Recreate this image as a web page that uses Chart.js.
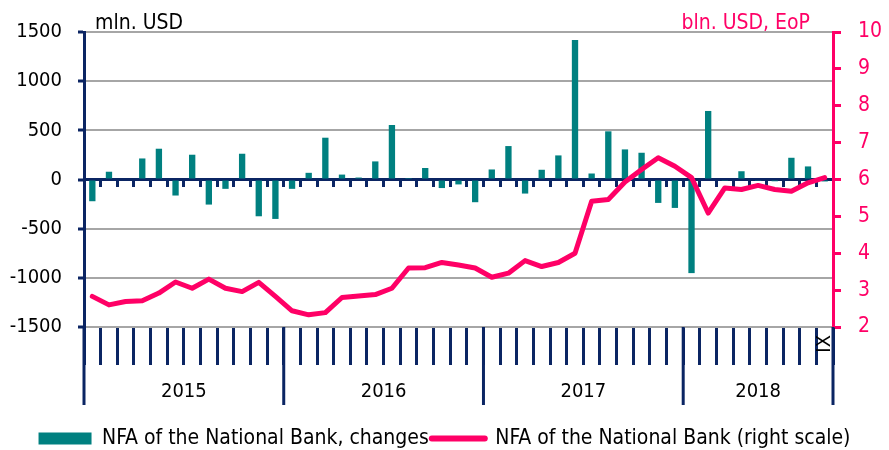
<!DOCTYPE html>
<html>
<head>
<meta charset="utf-8">
<script src="https://cdn.jsdelivr.net/npm/chart.js@4.4.1/dist/chart.umd.min.js"></script>
<style>
  body { margin: 0; background: #fff; }
</style>
</head>
<body>
<canvas id="nfaChart" width="889" height="450"></canvas>
<script>
// datos: enero 2015 - septiembre 2018
const years = ['2015', '2016', '2017', '2018'];
const monthsPerYear = [12, 12, 12, 9];
const romanMonths = ['I', 'II', 'III', 'IV', 'V', 'VI', 'VII', 'VIII', 'IX', 'X', 'XI', 'XII'];

// cambios mensuales, mln. USD (eje izquierdo)
const nfaChanges = [
  -221, 79, 10, 214, 313, -163, 252, -255, -95, 262, -374, -401,
  -95, 68, 425, 50, 20, 184, 554, 5, 117, -87, -50, -231,
  102, 340, -143, 99, 245, 1418, 61, 490, 306, 272, -238, -289,
  -952, 697, -15, 84, -15, -18, 221, 133, -20
];

// saldo a fin de periodo, bln. USD (eje derecho)
const nfaLevel = [
  2.83, 2.60, 2.69, 2.71, 2.92, 3.22, 3.05, 3.30, 3.05, 2.96, 3.21, 2.83,
  2.44, 2.33, 2.39, 2.80, 2.84, 2.88, 3.05, 3.60, 3.61, 3.75, 3.68, 3.60,
  3.35, 3.46, 3.80, 3.64, 3.75, 4.00, 5.41, 5.46, 5.93, 6.27, 6.59, 6.36,
  6.05, 5.09, 5.77, 5.73, 5.84, 5.73, 5.68, 5.91, 6.05
];

const leftTicks = [-1500, -1000, -500, 0, 500, 1000, 1500];
const rightTicks = [2, 3, 4, 5, 6, 7, 8, 9, 10];

// etiquetas de meses (una por barra)
const categories = [];
years.forEach((yr, k) => {
  for (let m = 0; m < monthsPerYear[k]; m++) categories.push(romanMonths[m]);
});

const navy = '#0b2563';
const teal = '#008080';
const pink = '#ff0066';
const gridGray = '#a6a6a6';
const family = "'DejaVu Sans Condensed', 'DejaVu Sans', sans-serif";

Chart.defaults.font.family = family;
Chart.defaults.color = '#000';

// lineas de separacion de años, nombres de años y unidades
const extrasPlugin = {
  id: 'extras',
  afterDraw(chart) {
    const { ctx, chartArea } = chart;
    const x = chart.scales.x;
    const bottom = chartArea.bottom;
    ctx.save();
    ctx.strokeStyle = navy;
    ctx.lineWidth = 3;
    ctx.fillStyle = '#000';
    ctx.font = '20px ' + family;
    ctx.textAlign = 'center';
    ctx.textBaseline = 'middle';
    let start = 0;
    const bounds = [x.getPixelForValue(-0.5)];
    years.forEach((yr, k) => {
      const l = x.getPixelForValue(start - 0.5);
      const r = x.getPixelForValue(start + monthsPerYear[k] - 0.5);
      ctx.fillText(yr, (l + r) / 2, bottom + 65);
      bounds.push(r);
      start += monthsPerYear[k];
    });
    bounds.forEach(px => {
      ctx.beginPath();
      ctx.moveTo(px, bottom);
      ctx.lineTo(px, bottom + 78);
      ctx.stroke();
    });

    ctx.font = '21px ' + family;
    ctx.textBaseline = 'alphabetic';
    ctx.textAlign = 'left';
    ctx.fillText('mln. USD', chartArea.left + 11, chartArea.top - 3);
    ctx.fillStyle = pink;
    ctx.textAlign = 'right';
    ctx.fillText('bln. USD, EoP', chartArea.right - 23, chartArea.top - 3);
    ctx.restore();
  }
};

const ctx = document.querySelector('#nfaChart').getContext('2d');
const nfaChart = new Chart(ctx, {
  type: 'bar',
  data: {
    labels: categories,
    datasets: [
      {
        label: 'NFA of the National Bank, changes',
        data: nfaChanges,
        backgroundColor: teal,
        borderWidth: 0,
        barPercentage: 0.38,
        categoryPercentage: 1,
        xAxisID: 'x',
        yAxisID: 'y',
        order: 1
      },
      {
        type: 'line',
        label: 'NFA of the National Bank (right scale)',
        data: nfaLevel,
        borderColor: pink,
        backgroundColor: pink,
        borderWidth: 5,
        borderCapStyle: 'round',
        borderJoinStyle: 'round',
        pointRadius: 0,
        tension: 0,
        xAxisID: 'x',
        yAxisID: 'y1',
        order: 0
      }
    ]
  },
  options: {
    responsive: false,
    devicePixelRatio: 1,
    animation: false,
    layout: { padding: { top: 32, left: 0, right: 0, bottom: -9 } },
    scales: {
      x: {
        type: 'category',
        position: 'bottom',
        offset: true,
        grid: {
          offset: true,
          drawOnChartArea: false,
          tickColor: navy,
          tickWidth: 3,
          tickLength: 38
        },
        border: { display: false },
        ticks: {
          autoSkip: false,
          minRotation: 90,
          maxRotation: 90,
          padding: -30,
          font: { size: 20 },
          callback: (val, i) => (i === categories.length - 1 ? categories[i] : '')
        },
        afterFit: s => { s.height = 98; }
      },
      x0: {
        type: 'category',
        position: { y: 0 },
        offset: true,
        grid: {
          offset: true,
          drawOnChartArea: false,
          tickColor: navy,
          tickWidth: 3,
          tickLength: 6
        },
        border: { color: navy, width: 3 },
        ticks: { display: false }
      },
      y: {
        position: 'left',
        min: -1500,
        max: 1500,
        afterBuildTicks: s => { s.ticks = leftTicks.map(v => ({ value: v })); },
        grid: {
          color: gridGray,
          lineWidth: 2,
          tickColor: navy,
          tickWidth: 3,
          tickLength: 6
        },
        border: { color: navy, width: 3 },
        ticks: { padding: 16, font: { size: 20 }, callback: v => String(v) },
        afterFit: s => { s.width = 84; }
      },
      y1: {
        position: 'right',
        min: 2,
        max: 10,
        afterBuildTicks: s => { s.ticks = rightTicks.map(v => ({ value: v })); },
        grid: {
          drawOnChartArea: false,
          tickColor: pink,
          tickWidth: 3,
          tickLength: 8
        },
        border: { color: pink, width: 3 },
        ticks: { color: pink, padding: 17, font: { size: 21 } },
        afterFit: s => { s.width = 56; }
      }
    },
    plugins: {
      tooltip: { enabled: false },
      legend: {
        position: 'bottom',
        labels: {
          usePointStyle: true,
          pointStyleWidth: 53,
          boxHeight: 12,
          padding: 3,
          color: '#000',
          font: { size: 21, lineHeight: 1 },
          sort: (a, b) => a.datasetIndex - b.datasetIndex,
          generateLabels: chart =>
            Chart.defaults.plugins.legend.labels.generateLabels(chart).map(item => {
              if (chart.data.datasets[item.datasetIndex].type === 'line') {
                item.pointStyle = 'line';
                item.strokeStyle = pink;
                item.lineWidth = 6;
                item.lineCap = 'round';
              } else {
                item.pointStyle = 'rect';
                item.lineWidth = 0;
              }
              return item;
            })
        }
      }
    }
  },
  plugins: [extrasPlugin]
});
</script>
</body>
</html>
